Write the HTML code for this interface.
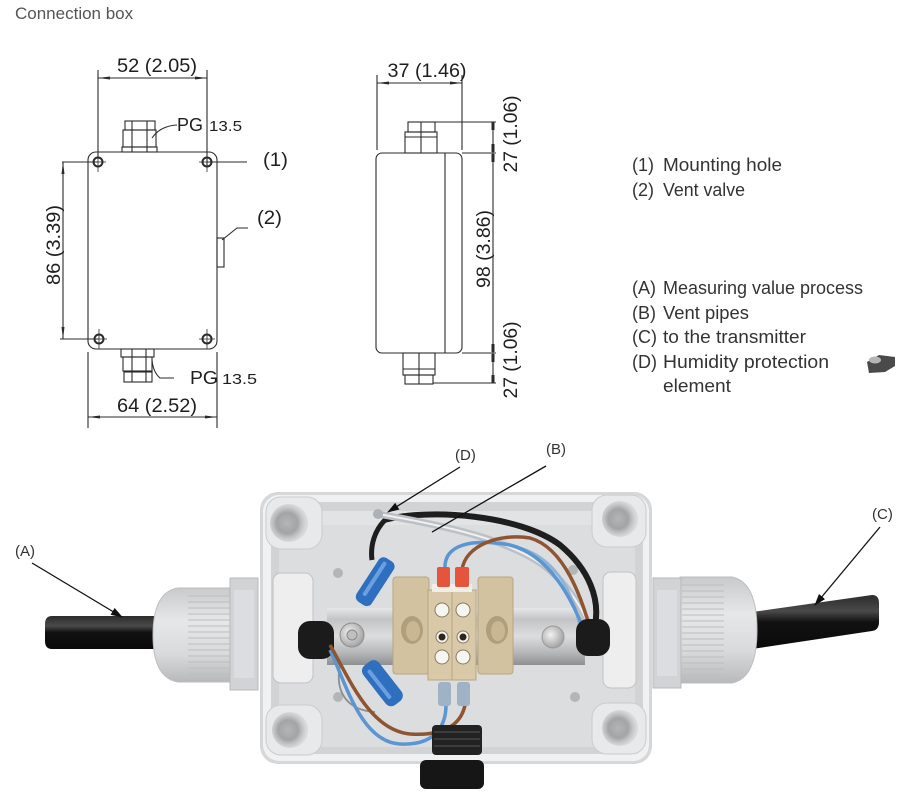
<!DOCTYPE html>
<html><head><meta charset="utf-8"><style>
html,body{margin:0;padding:0;background:#fff;}
svg{display:block;}
</style></head><body>
<svg width="913" height="797" viewBox="0 0 913 797" xmlns="http://www.w3.org/2000/svg">
<defs>
<marker id="ah" viewBox="0 0 12 8" markerWidth="12" markerHeight="8" refX="11" refY="4" orient="auto" markerUnits="userSpaceOnUse"><path d="M0,0 L12,4 L0,8 z" fill="#111"/></marker>
<linearGradient id="cab" x1="0" y1="0" x2="0" y2="1"><stop offset="0" stop-color="#2c2c2c"/><stop offset="0.3" stop-color="#4a4a4a"/><stop offset="0.5" stop-color="#111"/><stop offset="1" stop-color="#0a0a0a"/></linearGradient>
<linearGradient id="gl" x1="0" y1="0" x2="0" y2="1"><stop offset="0" stop-color="#c9cacc"/><stop offset="0.35" stop-color="#e6e7e8"/><stop offset="0.7" stop-color="#d9dadc"/><stop offset="1" stop-color="#b8b9bb"/></linearGradient>
<linearGradient id="rail" x1="0" y1="0" x2="0" y2="1"><stop offset="0" stop-color="#e6e7e8"/><stop offset="0.2" stop-color="#c3c4c6"/><stop offset="0.5" stop-color="#dcdddf"/><stop offset="0.8" stop-color="#b3b4b6"/><stop offset="1" stop-color="#8e8f91"/></linearGradient>
<radialGradient id="hole" cx="0.45" cy="0.5" r="0.5"><stop offset="0" stop-color="#b4b5b7"/><stop offset="0.55" stop-color="#a3a4a6"/><stop offset="0.8" stop-color="#c4c5c7"/><stop offset="1" stop-color="#d8d9db"/></radialGradient>
<radialGradient id="scr" cx="0.4" cy="0.4" r="0.6"><stop offset="0" stop-color="#f2f2f2"/><stop offset="1" stop-color="#a5a5a5"/></radialGradient>
</defs>

<!-- Title -->
<text x="15" y="19" font-family="Liberation Sans, sans-serif" font-size="17" fill="#555">Connection box</text>

<!-- ===== Front view ===== -->
<g stroke="#2a2a2a" stroke-width="1.1" fill="none">
  <rect x="88" y="152" width="129" height="197" rx="8"/>
  <g stroke-width="2">
    <circle cx="98" cy="162" r="4.5"/><circle cx="207" cy="162" r="4.5"/>
    <circle cx="99" cy="339" r="4.5"/><circle cx="207" cy="339" r="4.5"/>
  </g>
  <path d="M98,152 V172 M90,162 H106 M207,152 V172 M199,162 H215 M99,329 V349 M91,339 H107 M207,329 V349 M199,339 H215" stroke-width="0.8"/>
  <rect x="125" y="121" width="30" height="9"/>
  <rect x="123" y="130" width="33" height="17"/>
  <rect x="122" y="147" width="35" height="5"/>
  <path d="M132,121 V152 M147,121 V152"/>
  <rect x="121" y="349" width="33" height="8"/>
  <rect x="123" y="357" width="29" height="14"/>
  <rect x="124" y="372" width="28" height="10"/>
  <path d="M132,349 V382 M146,349 V382"/>
  <path d="M177,125 Q160,126 152,138"/>
  <path d="M174,378 L160,378 Q153,372 152,360"/>
  <rect x="217" y="238" width="7" height="29"/>
  <path d="M248,228 L237,228 L222,240"/>
  <path d="M207,162 H247"/>
  <path d="M62,162 H98 M60,339 H99 M63,162 V339"/>
  <path d="M98,70 V157 M207,70 V167 M98,78 H207"/>
  <path d="M88,352 V428 M217,352 V428 M88,417 H217"/>
</g>
<g fill="#2a2a2a">
  <polygon points="98,78 110,76.5 110,79.5"/><polygon points="207,78 195,76.5 195,79.5"/>
  <polygon points="88,417 100,415.5 100,418.5"/><polygon points="217,417 205,415.5 205,418.5"/>
  <polygon points="63,162 61.5,174 64.5,174"/><polygon points="63,339 61.5,327 64.5,327"/>
</g>
<g font-family="Liberation Sans, sans-serif" fill="#1e1e1e">
  <text x="157" y="72" font-size="19" text-anchor="middle" textLength="80" lengthAdjust="spacingAndGlyphs">52 (2.05)</text>
  <text x="157" y="412" font-size="19" text-anchor="middle" textLength="80" lengthAdjust="spacingAndGlyphs">64 (2.52)</text>
  <text transform="translate(60,245) rotate(-90)" font-size="19" text-anchor="middle" textLength="80" lengthAdjust="spacingAndGlyphs">86 (3.39)</text>
  <text x="177" y="131" font-size="18" textLength="26" lengthAdjust="spacingAndGlyphs">PG</text>
  <text x="209" y="131" font-size="15" textLength="33" lengthAdjust="spacingAndGlyphs">13.5</text>
  <text x="190" y="384" font-size="18" textLength="28" lengthAdjust="spacingAndGlyphs">PG</text>
  <text x="222" y="384" font-size="15" textLength="35" lengthAdjust="spacingAndGlyphs">13.5</text>
  <text x="263" y="166" font-size="19" textLength="25" lengthAdjust="spacingAndGlyphs">(1)</text>
  <text x="257" y="224" font-size="19" textLength="25" lengthAdjust="spacingAndGlyphs">(2)</text>
</g>

<!-- ===== Side view ===== -->
<g stroke="#2a2a2a" stroke-width="1.1" fill="none">
  <rect x="376" y="153" width="86" height="200" rx="6"/>
  <path d="M445,153 V353"/>
  <rect x="408" y="122" width="27" height="10"/>
  <rect x="405" y="132" width="32" height="21"/>
  <path d="M421,122 V153 M405,137 H437"/>
  <rect x="403" y="353" width="32" height="22"/>
  <rect x="405" y="375" width="28" height="9"/>
  <path d="M419,353 V384 M403,369 H435"/>
  <path d="M435,122 H496 M462,153 H496 M462,353 H496 M433,383 H496 M493,122 V383"/>
  <path d="M377,75 V150 M462,75 V150 M377,83 H462"/>
</g>
<g fill="#2a2a2a">
  <polygon points="377,83 389,81.5 389,84.5"/><polygon points="462,83 450,81.5 450,84.5"/>
  <rect x="491.5" y="122" width="3" height="8"/><rect x="491.5" y="144" width="3" height="8"/>
  <rect x="491.5" y="154" width="3" height="8"/><rect x="491.5" y="344" width="3" height="8"/>
  <rect x="491.5" y="354" width="3" height="8"/><rect x="491.5" y="375" width="3" height="8"/>
</g>
<g font-family="Liberation Sans, sans-serif" fill="#1e1e1e" font-size="19">
  <text x="427" y="77" text-anchor="middle" textLength="79" lengthAdjust="spacingAndGlyphs">37 (1.46)</text>
  <text transform="translate(517,134) rotate(-90)" text-anchor="middle" textLength="77" lengthAdjust="spacingAndGlyphs">27 (1.06)</text>
  <text transform="translate(490,249) rotate(-90)" text-anchor="middle" textLength="78" lengthAdjust="spacingAndGlyphs">98 (3.86)</text>
  <text transform="translate(517,360) rotate(-90)" text-anchor="middle" textLength="77" lengthAdjust="spacingAndGlyphs">27 (1.06)</text>
</g>

<!-- ===== Legend ===== -->
<g font-family="Liberation Sans, sans-serif" fill="#333" font-size="18">
  <text x="632" y="171">(1)</text><text x="663" y="171" textLength="119" lengthAdjust="spacingAndGlyphs">Mounting hole</text>
  <text x="632" y="196">(2)</text><text x="663" y="196" textLength="82" lengthAdjust="spacingAndGlyphs">Vent valve</text>
  <text x="632" y="294">(A)</text><text x="663" y="294" textLength="200" lengthAdjust="spacingAndGlyphs">Measuring value process</text>
  <text x="632" y="319">(B)</text><text x="663" y="319" textLength="86" lengthAdjust="spacingAndGlyphs">Vent pipes</text>
  <text x="632" y="343">(C)</text><text x="663" y="343" textLength="143" lengthAdjust="spacingAndGlyphs">to the transmitter</text>
  <text x="632" y="368">(D)</text><text x="663" y="368" textLength="166" lengthAdjust="spacingAndGlyphs">Humidity protection</text>
  <text x="663" y="392" textLength="68" lengthAdjust="spacingAndGlyphs">element</text>
</g>
<path d="M867,362 L879,355 L895,357 L895,366 L885,372 L869,373 Z" fill="#4a4a4a"/>
<ellipse cx="875" cy="360" rx="6" ry="3.5" fill="#b5b5b5"/>

<!-- ===== Photo ===== -->
<path d="M158,616 L52,616 Q45,616 45,624 L45,641 Q45,649 52,649 L158,649 Z" fill="url(#cab)"/>
<path d="M232,588 L178,588 Q153,592 153,635 Q153,678 178,682 L232,682 Z" fill="url(#gl)" stroke="#bdbec0"/>
<g stroke="#bcbdbf" stroke-width="1">
  <path d="M188,596 H230 M188,602 H230 M188,608 H230 M188,614 H230 M188,620 H230 M188,626 H230 M188,632 H230 M188,638 H230 M188,644 H230 M188,650 H230 M188,656 H230 M188,662 H230 M188,668 H230 M188,674 H230"/>
</g>
<rect x="230" y="578" width="28" height="112" fill="#d2d3d5" stroke="#b8b9bb"/>
<rect x="234" y="590" width="20" height="88" fill="#dcdde0"/>
<path d="M752,612 L872,595 Q879,595 879,603 L879,622 Q879,630 872,631 L752,649 Z" fill="url(#cab)"/>
<path d="M680,577 L732,577 Q757,582 757,630 Q757,678 732,683 L680,683 Z" fill="url(#gl)" stroke="#bdbec0"/>
<g stroke="#bcbdbf" stroke-width="1">
  <path d="M682,585 H724 M682,591 H724 M682,597 H724 M682,603 H724 M682,609 H724 M682,615 H724 M682,621 H724 M682,627 H724 M682,633 H724 M682,639 H724 M682,645 H724 M682,651 H724 M682,657 H724 M682,663 H724 M682,669 H724 M682,675 H724"/>
</g>
<rect x="653" y="578" width="28" height="110" fill="#d2d3d5" stroke="#b8b9bb"/>
<rect x="657" y="590" width="20" height="86" fill="#dcdde0"/>

<!-- box shell -->
<rect x="260" y="492" width="392" height="272" rx="18" fill="#d6d7d9"/>
<rect x="263" y="495" width="386" height="266" rx="16" fill="#f0f1f2"/>
<rect x="271" y="502" width="372" height="252" rx="9" fill="#d2d3d5"/>
<rect x="279" y="511" width="356" height="236" rx="6" fill="#dcdddf"/>
<rect x="320" y="511" width="274" height="14" fill="#e2e3e5"/>
<g fill="#e8e9ea" stroke="#cbccce">
  <rect x="266" y="497" width="56" height="52" rx="15"/>
  <rect x="592" y="495" width="54" height="52" rx="15"/>
  <rect x="266" y="705" width="56" height="50" rx="15"/>
  <rect x="592" y="703" width="54" height="51" rx="15"/>
</g>
<g fill="url(#hole)">
  <circle cx="289" cy="523" r="19"/><circle cx="620" cy="519" r="18"/>
  <circle cx="290" cy="730" r="18"/><circle cx="620" cy="728" r="18"/>
</g>
<g fill="#b4b5b7">
  <circle cx="338" cy="573" r="5"/><circle cx="573" cy="570" r="5"/>
  <circle cx="338" cy="697" r="5"/><circle cx="575" cy="697" r="5"/>
</g>
<rect x="273" y="573" width="40" height="110" rx="8" fill="#eeeeef" stroke="#c2c3c5"/>
<rect x="603" y="572" width="33" height="116" rx="8" fill="#eeeeef" stroke="#c2c3c5"/>

<rect x="327" y="608" width="258" height="57" fill="url(#rail)"/>

<path d="M384,520 C430,508 520,515 560,545 C590,570 600,600 595,625" stroke="#1e1e1e" stroke-width="6" fill="none"/>
<path d="M378,514 C440,525 520,540 555,575 C575,595 585,615 590,628" stroke="#bcc0c5" stroke-width="7" fill="none"/>
<path d="M378,514 C440,525 520,540 555,575 C575,595 585,615 590,628" stroke="#eef0f2" stroke-width="2" fill="none"/>
<path d="M385,520 C375,530 370,545 372,560" stroke="#1e1e1e" stroke-width="5" fill="none"/>
<path d="M520,548 C560,560 575,600 580,628" stroke="#8fb4d8" stroke-width="3" fill="none"/>
<path d="M445,570 C443,545 470,538 510,545 C550,555 572,600 584,630" stroke="#5b96d3" stroke-width="3.5" fill="none"/>
<path d="M462,570 C465,545 500,533 530,538 C565,548 582,600 590,628" stroke="#8f5431" stroke-width="3.5" fill="none"/>
<circle cx="378" cy="514" r="5" fill="#aeb2b6"/>

<rect x="298" y="621" width="36" height="38" rx="12" fill="#1b1b1b"/>
<rect x="576" y="619" width="34" height="37" rx="12" fill="#1b1b1b"/>

<path d="M340,665 C335,690 345,710 375,712" stroke="#8e8e8e" stroke-width="1.8" fill="none"/>
<path d="M330,650 C345,680 360,742 400,744 C440,746 446,720 446,705" stroke="#5b96d3" stroke-width="3.5" fill="none"/>
<path d="M330,645 C350,680 370,730 410,734 C455,737 463,715 465,705" stroke="#8f5431" stroke-width="3.5" fill="none"/>

<circle cx="352" cy="635" r="12" fill="url(#scr)" stroke="#8e8e8e"/>
<circle cx="352" cy="635" r="5" fill="#c0c0c0" stroke="#888"/>
<circle cx="553" cy="637" r="11" fill="url(#scr)" stroke="#9a9a9a"/>

<g transform="translate(373,585) rotate(33)">
  <rect x="-9" y="-30" width="18" height="52" rx="6" fill="#2f6fc0"/>
  <rect x="-4" y="-26" width="4" height="40" rx="2" fill="#6b9fe0"/>
</g>
<g transform="translate(383,684) rotate(-38)">
  <rect x="-10" y="-26" width="20" height="50" rx="7" fill="#2f6fc0"/>
  <rect x="-5" y="-20" width="4" height="36" rx="2" fill="#6b9fe0"/>
</g>

<rect x="393" y="577" width="36" height="97" rx="3" fill="#d3c2a0" stroke="#b7a581"/>
<ellipse cx="412" cy="630" rx="11" ry="14" fill="#b19e7b"/>
<ellipse cx="413" cy="631" rx="7" ry="10" fill="#c9b793"/>
<rect x="478" y="577" width="35" height="97" rx="3" fill="#d3c2a0" stroke="#b7a581"/>
<ellipse cx="497" cy="630" rx="11" ry="14" fill="#b19e7b"/>
<ellipse cx="498" cy="631" rx="7" ry="10" fill="#c9b793"/>
<rect x="428" y="590" width="24" height="90" fill="#d9c9a8" stroke="#b7a581"/>
<rect x="452" y="590" width="24" height="90" fill="#d9c9a8" stroke="#b7a581"/>
<rect x="432" y="584" width="40" height="8" fill="#efeee8"/>
<g fill="#f5f5f2" stroke="#8a7a5e">
  <circle cx="442" cy="610" r="7"/><circle cx="463" cy="610" r="7"/>
  <circle cx="442" cy="657" r="7"/><circle cx="463" cy="657" r="7"/>
  <circle cx="442" cy="637" r="6"/><circle cx="463" cy="637" r="6"/>
</g>
<circle cx="442" cy="637" r="3.5" fill="#2e251c"/><circle cx="463" cy="637" r="3.5" fill="#2e251c"/>
<rect x="437" y="567" width="13" height="20" rx="2" fill="#e4553b"/>
<rect x="455" y="567" width="14" height="20" rx="2" fill="#e4553b"/>
<rect x="438" y="682" width="13" height="24" rx="3" fill="#9fb2c6"/>
<rect x="457" y="682" width="13" height="24" rx="3" fill="#9fb2c6"/>

<rect x="432" y="725" width="50" height="30" rx="4" fill="#222"/>
<path d="M434,732 H480 M434,739 H480 M434,746 H480" stroke="#444" stroke-width="1.5"/>
<rect x="420" y="760" width="64" height="29" rx="6" fill="#161616"/>

<g stroke="#111" stroke-width="1.3" fill="none">
  <path d="M32,563 L122,617" marker-end="url(#ah)"/>
  <path d="M460,467 L388,512" marker-end="url(#ah)"/>
  <path d="M546,466 L432,532"/>
  <path d="M880,527 L815,605" marker-end="url(#ah)"/>
</g>
<g font-family="Liberation Sans, sans-serif" fill="#333" font-size="15">
  <text x="15" y="556">(A)</text>
  <text x="455" y="460">(D)</text>
  <text x="546" y="454">(B)</text>
  <text x="872" y="519">(C)</text>
</g>
</svg>
</body></html>
